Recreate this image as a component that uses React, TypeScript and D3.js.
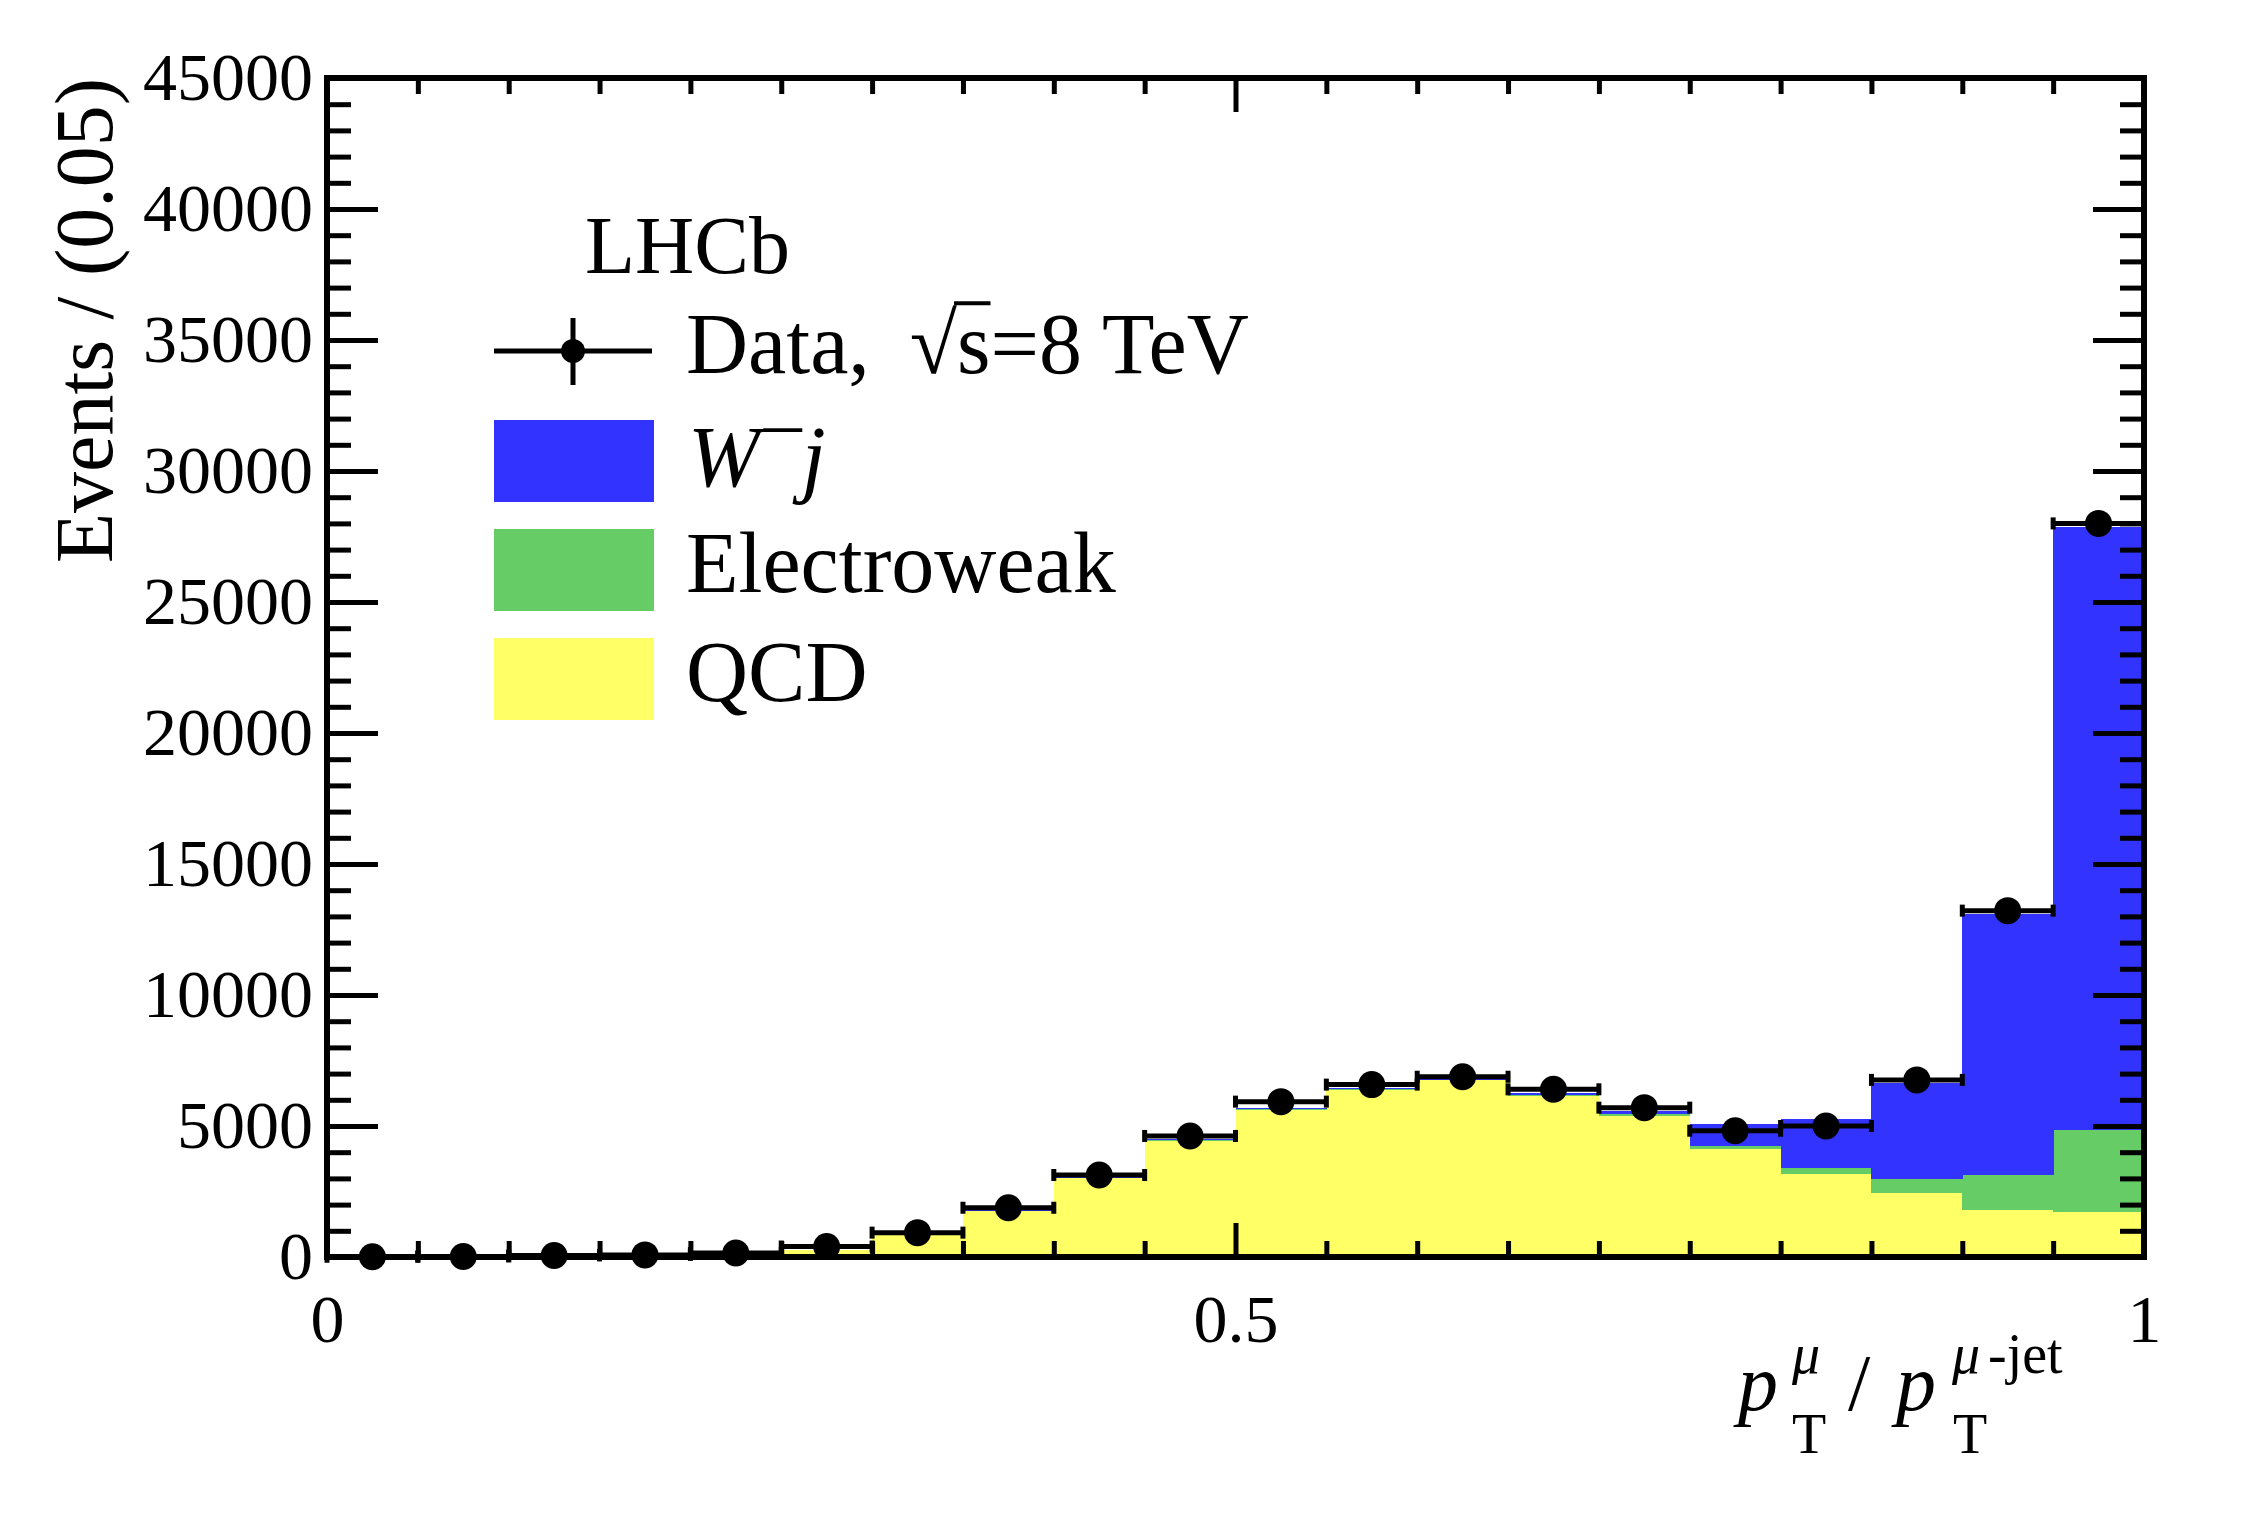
import React, { useEffect, useRef } from 'react';
import * as d3 from 'd3';

// ---- data ----
const binLow = [0.0, 0.05, 0.1, 0.15, 0.2, 0.25, 0.3, 0.35, 0.4, 0.45, 0.5, 0.55, 0.6, 0.65, 0.7, 0.75, 0.8, 0.85, 0.9, 0.95];
const binWidth = 0.05;
const dataCounts = [10, 20, 60, 80, 150, 400, 930, 1880, 3130, 4620, 5930, 6580, 6880, 6400, 5700, 4820, 5000, 6760, 13220, 28000];
const qcd = [5, 10, 40, 60, 110, 270, 830, 1745, 3000, 4440, 5620, 6390, 6740, 6150, 5400, 4120, 3180, 2455, 1795, 1730];
const electroweak = [0, 0, 0, 0, 0, 5, 10, 20, 30, 40, 30, 40, 30, 50, 50, 130, 220, 520, 1345, 3115];
const wMinusJet = [0, 0, 0, 0, 0, 5, 10, 10, 20, 30, 50, 30, 30, 50, 115, 830, 1870, 3680, 9940, 23010];
const yMajorTicks = [0, 5000, 10000, 15000, 20000, 25000, 30000, 35000, 40000, 45000];
const xMajorTicks = [0, 0.5, 1];
const seriesKeys = ['qcd', 'ew', 'wj'];
const seriesColors: Record<string, string> = { qcd: '#ffff66', ew: '#66cc66', wj: '#3333ff' };

const W = 2268;
const H = 1536;
const FONT = "'Liberation Serif', 'Times New Roman', serif";

export default function App() {
  const ref = useRef<SVGSVGElement>(null);

  useEffect(() => {
    const svg = d3.select(ref.current);
    svg.selectAll('*').remove();

    const x = d3.scaleLinear().domain([0, 1]).range([327, 2144]);
    const y = d3.scaleLinear().domain([0, 45000]).range([1257, 78]);
    const [x0, x1] = x.range();
    const [y0, y1] = y.range();

    svg.append('rect').attr('width', W).attr('height', H).attr('fill', '#fff');

    // stacked histogram
    const rows = binLow.map((lo, i) => ({ lo, qcd: qcd[i], ew: electroweak[i], wj: wMinusJet[i] }));
    const stack = d3.stack<any>().keys(seriesKeys)(rows);
    const gHist = svg.append('g').attr('shape-rendering', 'crispEdges');
    stack.forEach((layer) => {
      gHist
        .append('g')
        .attr('fill', seriesColors[layer.key])
        .selectAll('rect')
        .data(layer)
        .join('rect')
        .attr('x', (d: any) => x(d.data.lo))
        .attr('width', (d: any) => x(d.data.lo + binWidth) - x(d.data.lo) + 0.5)
        .attr('y', (d: any) => y(d[1]))
        .attr('height', (d: any) => Math.max(0, y(d[0]) - y(d[1])));
    });

    // axes
    const yMinor = d3.range(0, 45001, 1000).filter((v) => v % 5000 !== 0);
    const xMinor = binLow.filter((v) => Math.abs(v - 0.5) > 1e-6 && v > 0);

    const tickStyle = (g: any) => {
      g.select('.domain').remove();
      g.selectAll('line').attr('stroke', '#000').attr('stroke-width', 5);
    };

    svg.append('g').attr('transform', `translate(${x0},0)`)
      .call(d3.axisLeft(y).tickValues(yMajorTicks).tickSize(-51).tickPadding(14).tickFormat(d3.format('d') as any))
      .call(tickStyle)
      .call((g: any) => g.selectAll('text').attr('font-family', FONT).attr('font-size', 68).attr('fill', '#000'));
    svg.append('g').attr('transform', `translate(${x0},0)`)
      .call(d3.axisLeft(y).tickValues(yMinor).tickSize(-24).tickFormat(() => ''))
      .call(tickStyle);
    svg.append('g').attr('transform', `translate(${x1},0)`)
      .call(d3.axisRight(y).tickValues(yMajorTicks).tickSize(-51).tickFormat(() => ''))
      .call(tickStyle);
    svg.append('g').attr('transform', `translate(${x1},0)`)
      .call(d3.axisRight(y).tickValues(yMinor).tickSize(-24).tickFormat(() => ''))
      .call(tickStyle);

    svg.append('g').attr('transform', `translate(0,${y0})`)
      .call(d3.axisBottom(x).tickValues(xMajorTicks).tickSize(-34).tickPadding(37).tickFormat((d: any) => String(d)))
      .call(tickStyle)
      .call((g: any) => g.selectAll('text').attr('font-family', FONT).attr('font-size', 68).attr('fill', '#000'));
    svg.append('g').attr('transform', `translate(0,${y0})`)
      .call(d3.axisBottom(x).tickValues(xMinor).tickSize(-16).tickFormat(() => ''))
      .call(tickStyle);
    svg.append('g').attr('transform', `translate(0,${y1})`)
      .call(d3.axisTop(x).tickValues(xMajorTicks).tickSize(-34).tickFormat(() => ''))
      .call(tickStyle);
    svg.append('g').attr('transform', `translate(0,${y1})`)
      .call(d3.axisTop(x).tickValues(xMinor).tickSize(-16).tickFormat(() => ''))
      .call(tickStyle);

    // frame
    svg.append('rect')
      .attr('x', x0).attr('y', y1).attr('width', x1 - x0).attr('height', y0 - y1)
      .attr('fill', 'none').attr('stroke', '#000').attr('stroke-width', 6);

    // data points
    const gData = svg.append('g');
    binLow.forEach((lo, i) => {
      const yy = y(dataCounts[i]);
      const xl = x(lo);
      const xr = x(lo + binWidth);
      gData.append('line').attr('x1', xl).attr('x2', xr).attr('y1', yy).attr('y2', yy)
        .attr('stroke', '#000').attr('stroke-width', 5);
      [xl, xr].forEach((xe) => {
        gData.append('line').attr('x1', xe).attr('x2', xe).attr('y1', yy - 6).attr('y2', yy + 6)
          .attr('stroke', '#000').attr('stroke-width', 5);
      });
      gData.append('circle').attr('cx', x(lo + binWidth / 2)).attr('cy', yy).attr('r', 13.5).attr('fill', '#000');
    });

    // y title
    svg.append('text')
      .attr('transform', `translate(112,78) rotate(-90)`)
      .attr('text-anchor', 'end')
      .attr('font-family', FONT).attr('font-size', 82)
      .text('Events / (0.05)');

    // x title
    const xt = svg.append('g').attr('font-family', FONT).attr('fill', '#000');
    const xtx = 1738;
    xt.append('text').attr('x', xtx).attr('y', 1410).attr('font-size', 80).attr('font-style', 'italic').text('p');
    xt.append('text').attr('x', xtx + 54).attr('y', 1373).attr('font-size', 56).attr('font-style', 'italic').text('μ');
    xt.append('text').attr('x', xtx + 54).attr('y', 1453).attr('font-size', 56).text('T');
    xt.append('text').attr('x', xtx + 110).attr('y', 1410).attr('font-size', 80).text('/');
    xt.append('text').attr('x', xtx + 158).attr('y', 1410).attr('font-size', 80).attr('font-style', 'italic').text('p');
    xt.append('text').attr('x', xtx + 214).attr('y', 1373).attr('font-size', 56).attr('font-style', 'italic').text('μ');
    xt.append('text').attr('x', xtx + 250).attr('y', 1373).attr('font-size', 56).text('-jet');
    xt.append('text').attr('x', xtx + 215).attr('y', 1453).attr('font-size', 56).text('T');

    // LHCb label
    svg.append('text').attr('x', 585).attr('y', 273).attr('font-family', FONT).attr('font-size', 82).text('LHCb');

    // legend
    const lg = svg.append('g').attr('font-family', FONT);
    const lx0 = 494;
    const lx1 = 652;
    const textX = 686;
    const rowY = [351, 461, 570, 679];
    const fs = 86;
    // data entry
    lg.append('line').attr('x1', lx0).attr('x2', lx1).attr('y1', rowY[0]).attr('y2', rowY[0]).attr('stroke', '#000').attr('stroke-width', 5);
    lg.append('line').attr('x1', (lx0 + lx1) / 2).attr('x2', (lx0 + lx1) / 2).attr('y1', rowY[0] - 33).attr('y2', rowY[0] + 34).attr('stroke', '#000').attr('stroke-width', 5);
    lg.append('circle').attr('cx', (lx0 + lx1) / 2).attr('cy', rowY[0]).attr('r', 12).attr('fill', '#000');
    const dataText = lg.append('text').attr('x', textX).attr('y', rowY[0] + 22).attr('font-size', fs);
    dataText.append('tspan').text('Data,');
    dataText.append('tspan').attr('dx', 40).text('√');
    dataText.append('tspan').text('s=8 TeV');
    const tnode = dataText.node() as SVGTextElement;
    try {
      const rad = tnode.getExtentOfChar(5);
      const sExt = tnode.getExtentOfChar(6);
      lg.append('line')
        .attr('x1', rad.x + rad.width - 3).attr('x2', sExt.x + sExt.width)
        .attr('y1', rowY[0] + 22 - 0.81 * fs).attr('y2', rowY[0] + 22 - 0.81 * fs)
        .attr('stroke', '#000').attr('stroke-width', 4);
    } catch (e) { /* ignore */ }

    // fill entries
    const fillEntries = [
      { key: 'wj', row: 1 },
      { key: 'ew', row: 2 },
      { key: 'qcd', row: 3 },
    ];
    fillEntries.forEach((e) => {
      lg.append('rect').attr('x', lx0).attr('y', rowY[e.row] - 41).attr('width', lx1 - lx0 + 2).attr('height', 82)
        .attr('fill', seriesColors[e.key]);
    });
    const wText = lg.append('text').attr('x', textX + 2).attr('y', rowY[1] + 25).attr('font-size', fs);
    wText.append('tspan').attr('font-style', 'italic').text('W');
    wText.append('tspan').attr('font-size', 76).attr('dy', -38).attr('dx', 4).text('–');
    wText.append('tspan').attr('font-style', 'italic').attr('dy', 38).attr('dx', 0).text('j');
    lg.append('text').attr('x', textX).attr('y', rowY[2] + 22).attr('font-size', fs).text('Electroweak');
    lg.append('text').attr('x', textX).attr('y', rowY[3] + 22).attr('font-size', fs).text('QCD');
  }, []);

  return (
    <svg
      ref={ref}
      width={W}
      height={H}
      viewBox={`0 0 ${W} ${H}`}
      style={{ position: 'fixed', left: 0, top: 0, display: 'block' }}
    />
  );
}
